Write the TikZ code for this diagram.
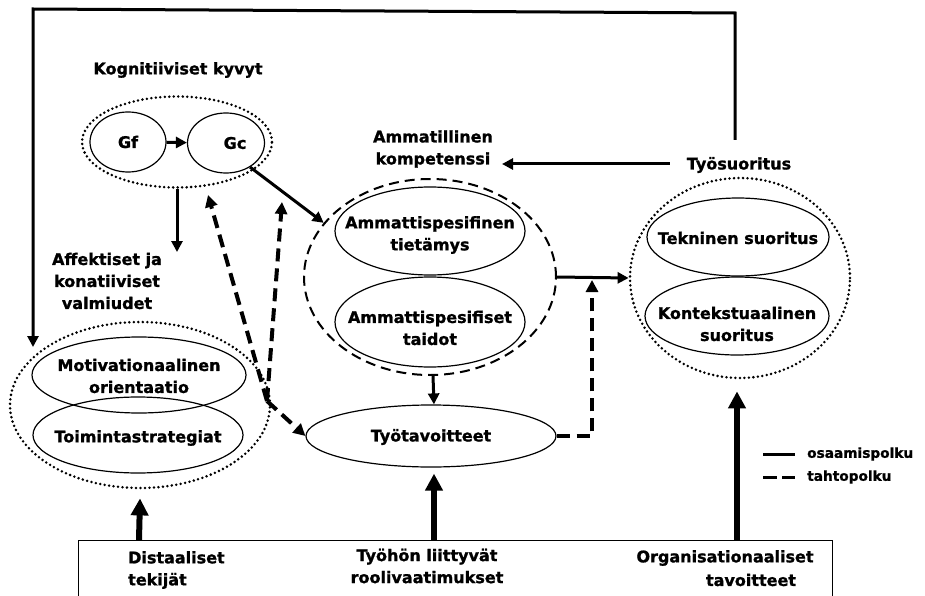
\documentclass[tikz,border=0pt]{standalone}
\usepackage{fontspec}
\setmainfont{DejaVu Sans}[BoldFeatures={FakeBold=1.2}]
\usetikzlibrary{arrows.meta,shapes.geometric,calc}
\begin{document}
\begin{tikzpicture}[x=1pt,y=-1pt,
  font=\fontsize{16}{22}\selectfont\bfseries,
  oval/.style={ellipse,draw,line width=1.2pt,inner sep=0pt},
  dotring/.style={ellipse,draw,line width=2.8pt,dash pattern=on 0pt off 4.5pt,line cap=round,inner sep=0pt},
  dashring/.style={ellipse,draw,line width=2pt,dash pattern=on 10pt off 6pt,inner sep=0pt},
  lbl/.style={align=center,inner sep=0pt},
  skillpath/.style={line width=3pt,-{Triangle[length=11pt,width=11pt]}},
  willpath/.style={line width=4pt,dash pattern=on 13pt off 7pt,-{Triangle[length=12pt,width=12pt]}},
  bigarrow/.style={line width=6pt,-{Triangle[length=17pt,width=17pt]}},
  legendtxt/.style={anchor=west,inner sep=0pt,font=\fontsize{13.7}{16}\selectfont\bfseries},
]
\useasboundingbox (0,0) rectangle (925,596);

% cognitive abilities
\node[lbl] (kogn) at (178,70) {Kognitiiviset kyvyt};
\node[dotring,minimum width=190,minimum height=91] (cog) at (177,142) {};
\node[oval,minimum width=76,minimum height=60] (gf) at (128,142) {};
\node[oval,minimum width=77,minimum height=60] (gc) at (226,143) {};
\node[lbl] (gftext) at (128,142) {Gf};
\node[lbl] (gctext) at (235,143) {Gc};

% affective and conative traits
\node[lbl] (aff) at (107,281) {Affektiset ja\\konatiiviset\\valmiudet};
\node[dotring,minimum width=260,minimum height=166] (affring) at (140,405) {};
\node[oval,minimum width=214,minimum height=76] (motiv) at (139,375) {};
\node[oval,minimum width=210,minimum height=76] (strat) at (138,435) {};
\node[lbl] (motivtext) at (139,376) {Motivationaalinen\\orientaatio};
\node[lbl] (strattext) at (138,438) {Toimintastrategiat};

% occupational competence
\node[lbl] (amkomp) at (433,149) {Ammatillinen\\kompetenssi};
\node[dashring,minimum width=252,minimum height=196] (komp) at (430,277) {};
\node[oval,minimum width=190,minimum height=88] (tiet) at (430,231) {};
\node[oval,minimum width=190,minimum height=90] (taid) at (430,322) {};
\node[oval,minimum width=250,minimum height=62] (tavo) at (431,436) {};
\node[lbl] (tiettext) at (430,235) {Ammattispesifinen\\tietämys};
\node[lbl] (taidtext) at (430,328) {Ammattispesifiset\\taidot};
\node[lbl] (tavotext) at (431,437) {Työtavoitteet};

% job performance
\node[lbl] (tyosuor) at (739,165) {Työsuoritus};
\node[dotring,minimum width=220,minimum height=200] (suor) at (740,278) {};
\node[oval,minimum width=182,minimum height=78] (tekn) at (738,237) {};
\node[oval,minimum width=184,minimum height=78] (kont) at (737,316) {};
\node[lbl] (tekntext) at (738,238) {Tekninen suoritus};
\node[lbl] (konttext) at (737,324) {Kontekstuaalinen\\suoritus};

% base factors
\node[draw,line width=1.2pt,anchor=north west,minimum width=754,minimum height=80,inner sep=0pt] (base) at (78,540) {};
\node[lbl,anchor=west,align=left] (dist) at (128,570) {Distaaliset\\tekijät};
\node[lbl] (rooli) at (427,566) {Työhön liittyvät\\roolivaatimukset};
\node[lbl] (org1) at (725,558) {Organisationaaliset};
\node[lbl] (org2) at (751,580) {tavoitteet};

% free ends of connectors
\coordinate (loopStart) at (735,140);
\coordinate (loopR) at (735,13);
\coordinate (loopL) at (33,9);
\coordinate (affIn) at (33,347);
\coordinate (affArrow) at (177,252);
\coordinate (kompIn) at (502,164);
\coordinate (J) at (267,401);
\coordinate (cogIn1) at (208,195);
\coordinate (cogIn2) at (282,202);
\coordinate (willUp) at (592,280);

% skill path
\draw[skillpath] (gf) -- (gc);
\draw[skillpath] (gc.-45) -- (komp.153);
\draw[skillpath] (cog.south) -- (affArrow);
\draw[skillpath] ([xshift=-17pt,yshift=1pt]tyosuor.west) -- (kompIn);
\draw[skillpath] ([xshift=3pt]komp.south) -- ([xshift=3pt]tavo.north);
\draw[skillpath] (komp.east) -- (suor.west);
\draw[skillpath] (loopStart) -- (loopR) -- (loopL) -- (affIn);

% will path
\draw[willpath] (J) -- (cogIn1);
\draw[willpath] (J) -- (cogIn2);
\draw[willpath] (J) -- (tavo.west);
\draw[willpath] (tavo.east) -| (willUp);

% influences from below
\draw[bigarrow] ([xshift=61pt]base.north west) -- ([yshift=-9pt]affring.south);
\draw[bigarrow] ([xshift=356pt]base.north west) -- ([xshift=3pt,yshift=-6pt]tavo.south);
\draw[bigarrow] ([xshift=659pt]base.north west) -- ([xshift=-3pt,yshift=-12pt]suor.south);

% legend
\coordinate (leg1a) at (763,454);
\coordinate (leg1b) at (795,454);
\coordinate (leg2a) at (763,477);
\coordinate (leg2b) at (795,477);
\draw[line width=3pt] (leg1a) -- (leg1b);
\draw[line width=3pt,dash pattern=on 14pt off 5pt] (leg2a) -- (leg2b);
\node[legendtxt] (legskill) at (807,454) {osaamispolku};
\node[legendtxt] (legwill) at (807,477) {tahtopolku};
\end{tikzpicture}
\end{document}
